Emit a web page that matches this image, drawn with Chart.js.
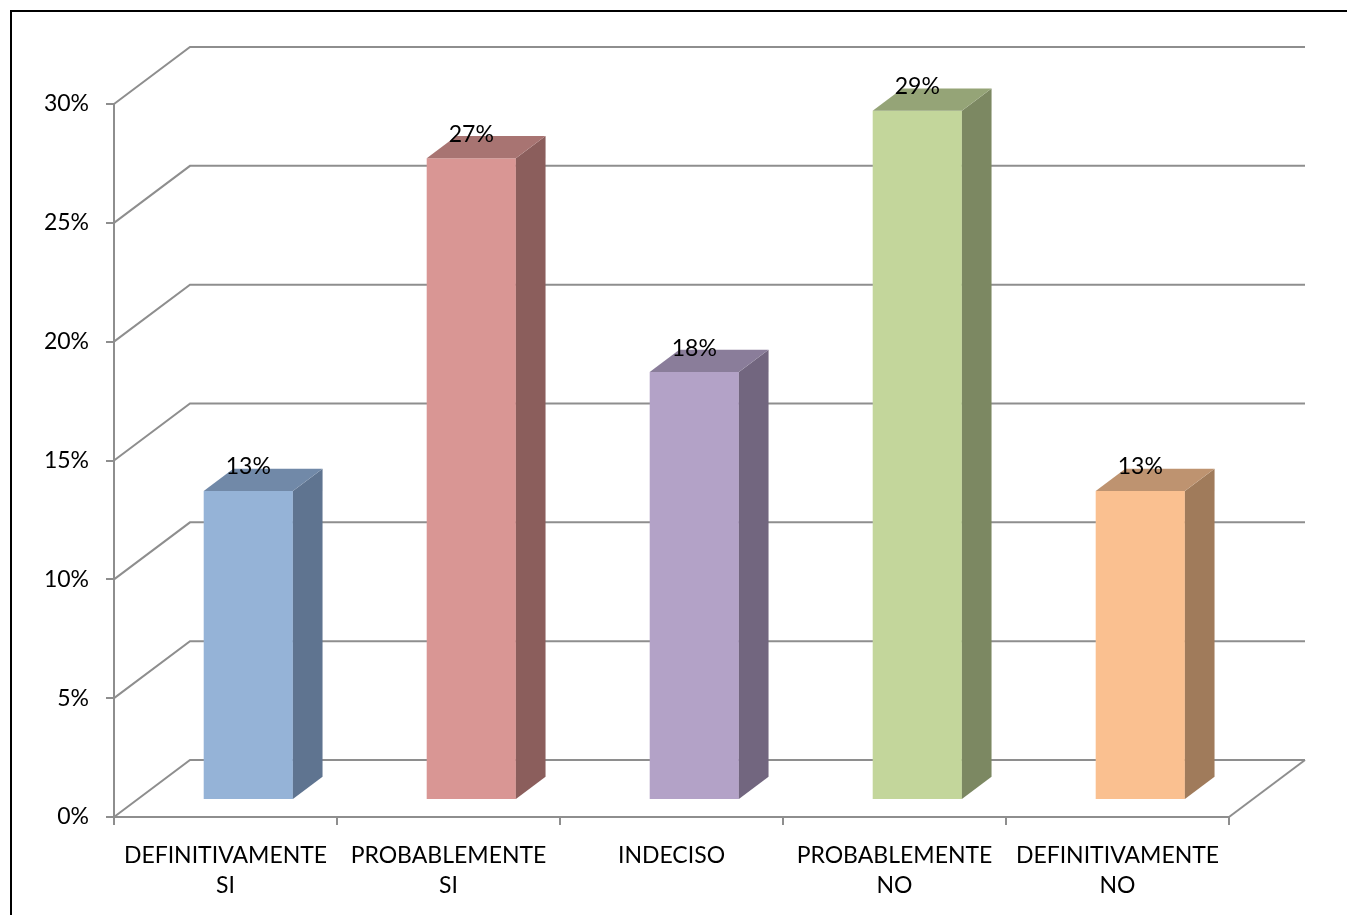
<!DOCTYPE html>
<html>
<head>
<meta charset="utf-8">
<script src="https://cdn.jsdelivr.net/npm/chart.js@4"></script>
<style>
  body { margin: 0; background: #fff; }
  canvas { display: block; }
</style>
</head>
<body>
<canvas id="grafica" width="1347" height="915"></canvas>
<script>
const categorias = [
    ['DEFINITIVAMENTE', 'SI'],
    ['PROBABLEMENTE', 'SI'],
    'INDECISO',
    ['PROBABLEMENTE', 'NO'],
    ['DEFINITIVAMENTE', 'NO']
];
const valores = [13, 27, 18, 29, 13];
const coloresFrente = ['#95B3D7', '#D99694', '#B3A2C7', '#C3D69B', '#FAC090'];
const coloresLado = ['#5F7490', '#8B5E5C', '#72667F', '#7C8862', '#A07B5B'];
const coloresArriba = ['#7189A8', '#A87472', '#8A7D9A', '#95A477', '#BE9370'];

// profundidad del "3D" (pared del fondo) y posicion de las barras dentro de ella
const FONDO = { dx: 76, dy: -57 };
const BARRA_Z = 0.3;   // cara frontal de la barra
const BARRA_P = 0.39;  // grosor de la barra
const GRIS = '#8E8E8E';
const LETRA = 23;

const efecto3D = {
    id: 'efecto3D',
    beforeDraw(chart) {
        const ctx = chart.ctx;
        ctx.save();
        ctx.strokeStyle = '#000';
        ctx.lineWidth = 2;
        ctx.strokeRect(11, 11, 1500, 1000);
        ctx.restore();
    },
    beforeDatasetsDraw(chart) {
        const ctx = chart.ctx;
        const a = chart.chartArea;
        const y = chart.scales.y;
        ctx.save();
        ctx.strokeStyle = GRIS;
        ctx.lineWidth = 2;
        y.ticks.forEach(t => {
            const py = y.getPixelForValue(t.value);
            ctx.beginPath();
            ctx.moveTo(a.left, py);
            ctx.lineTo(a.left + FONDO.dx, py + FONDO.dy);
            ctx.lineTo(a.right + FONDO.dx, py + FONDO.dy);
            ctx.stroke();
        });
        // borde derecho del piso
        ctx.beginPath();
        ctx.moveTo(a.right, a.bottom);
        ctx.lineTo(a.right + FONDO.dx, a.bottom + FONDO.dy);
        ctx.stroke();
        ctx.restore();

        ctx.save();
        ctx.translate(FONDO.dx * BARRA_Z, FONDO.dy * BARRA_Z);
    },
    afterDatasetsDraw(chart) {
        const ctx = chart.ctx;
        const ddx = FONDO.dx * BARRA_P, ddy = FONDO.dy * BARRA_P;
        chart.getDatasetMeta(0).data.forEach((bar, i) => {
            const p = bar.getProps(['x', 'y', 'base', 'width'], true);
            const l = p.x - p.width / 2, r = p.x + p.width / 2;
            // lado
            ctx.fillStyle = coloresLado[i];
            ctx.beginPath();
            ctx.moveTo(r, p.y);
            ctx.lineTo(r + ddx, p.y + ddy);
            ctx.lineTo(r + ddx, p.base + ddy);
            ctx.lineTo(r, p.base);
            ctx.closePath();
            ctx.fill();
            // tapa
            ctx.fillStyle = coloresArriba[i];
            ctx.beginPath();
            ctx.moveTo(l, p.y);
            ctx.lineTo(l + ddx, p.y + ddy);
            ctx.lineTo(r + ddx, p.y + ddy);
            ctx.lineTo(r, p.y);
            ctx.closePath();
            ctx.fill();
            // etiqueta
            ctx.fillStyle = '#000';
            ctx.font = LETRA + 'px Lato';
            ctx.textAlign = 'center';
            ctx.textBaseline = 'middle';
            ctx.fillText(valores[i] + '%', p.x, p.y - 24);
        });
        ctx.restore();
    }
};

new Chart(document.getElementById('grafica'), {
    type: 'bar',
    data: {
        labels: categorias,
        datasets: [{
            data: valores,
            backgroundColor: coloresFrente,
            borderWidth: 0,
            barPercentage: 0.4,
            categoryPercentage: 1
        }]
    },
    options: {
        responsive: false,
        animation: false,
        layout: { padding: { top: 104, right: 118, left: 0, bottom: 0 } },
        plugins: {
            legend: { display: false },
            tooltip: { enabled: false }
        },
        scales: {
            x: {
                afterFit(s) { s.height = 98; },
                border: { display: true, color: GRIS, width: 2 },
                grid: { drawOnChartArea: false, drawTicks: true, tickLength: 8, color: GRIS, lineWidth: 2, offset: true },
                ticks: {
                    color: '#000',
                    font: { family: 'Lato', size: LETRA, lineHeight: 1.3 },
                    padding: 16,
                    maxRotation: 0,
                    autoSkip: false
                }
            },
            y: {
                min: 0,
                max: 30,
                afterFit(s) { s.width = 114; },
                border: { display: true, color: GRIS, width: 2 },
                grid: { drawOnChartArea: false, drawTicks: true, tickLength: 8, color: GRIS, lineWidth: 2 },
                ticks: {
                    stepSize: 5,
                    color: '#000',
                    font: { family: 'Lato', size: LETRA },
                    padding: 17,
                    callback: v => v + '%'
                }
            }
        }
    },
    plugins: [efecto3D]
});
</script>
</body>
</html>
